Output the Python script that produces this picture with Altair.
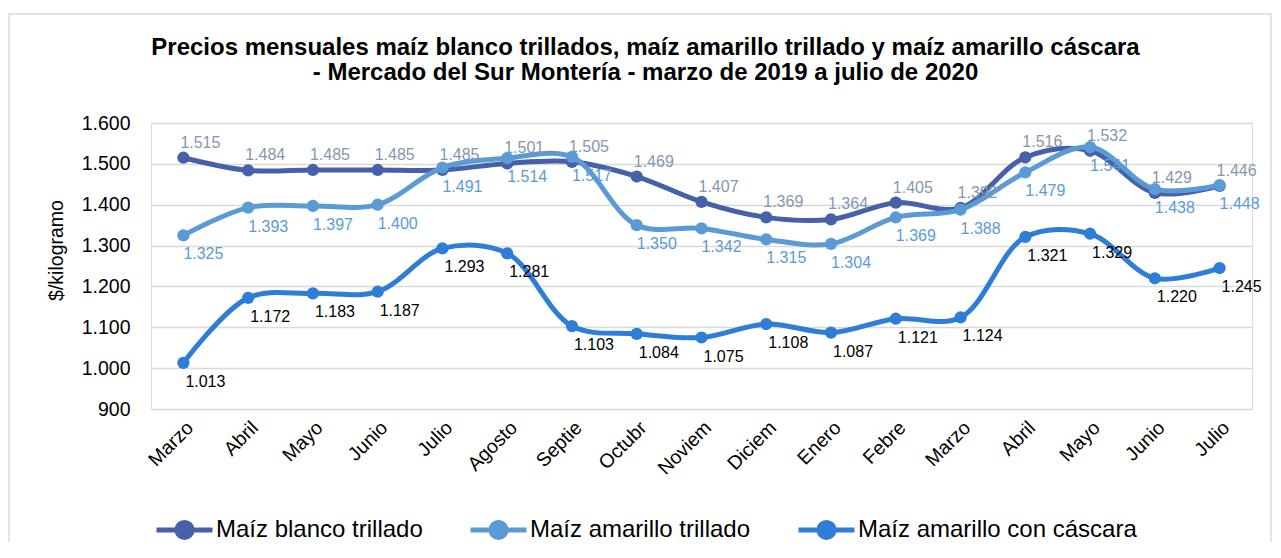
import json
import altair as alt
import pandas as pd

meses = ["Marzo", "Abril", "Mayo", "Junio", "Julio", "Agosto", "Septie", "Octubr",
         "Noviem", "Diciem", "Enero", "Febre", "Marzo", "Abril", "Mayo", "Junio", "Julio"]

series = ["Maíz blanco trillado", "Maíz amarillo trillado", "Maíz amarillo con cáscara"]

blanco = [1515, 1484, 1485, 1485, 1485, 1501, 1505, 1469, 1407, 1369, 1364, 1405, 1392,
          1516, 1532, 1429, 1446]
amarillo = [1325, 1393, 1397, 1400, 1491, 1514, 1517, 1350, 1342, 1315, 1304, 1369, 1388,
            1479, 1541, 1438, 1448]
cascara = [1013, 1172, 1183, 1187, 1293, 1281, 1103, 1084, 1075, 1108, 1087, 1121, 1124,
           1321, 1329, 1220, 1245]

colores = ["#4760AA", "#5B9BD5", "#2E7DD7"]
colores_etiqueta = ["#8497B0", "#5B9BD5", "#000000"]

rows = []
for s, vals in zip(series, [blanco, amarillo, cascara]):
    for i, v in enumerate(vals):
        rows.append({"mes": i, "serie": s, "valor": v})
df = pd.DataFrame(rows)

FONT = "Liberation Sans"
W, H = 1101, 286

labels_js = json.dumps(meses)

x_enc = alt.X("mes:O",
              scale=alt.Scale(type="point", padding=0.5),
              axis=alt.Axis(title=None, labelAngle=-45, labelAlign="right", labelBaseline="top",
                            labelExpr=f"{labels_js}[datum.value]", labelFontSize=19.5,
                            labelColor="#000000", labelFont=FONT, ticks=False, domain=False,
                            labelPadding=9, grid=False))
y_enc = alt.Y("valor:Q",
              scale=alt.Scale(domain=[900, 1600], nice=False, zero=False),
              axis=alt.Axis(title="$/kilogramo", values=[900, 1000, 1100, 1200, 1300, 1400, 1500, 1600],
                            labelExpr="replace(format(datum.value, ','), ',', '.')",
                            labelFontSize=19.5, labelFont=FONT, labelColor="#000000",
                            titleFontSize=19.5, titleFont=FONT, titleFontWeight="normal",
                            titleColor="#000000", titleAngle=270, titleX=-95, titleY=127,
                            titleAlign="center", titleBaseline="middle",
                            ticks=False, domain=False, labelPadding=21,
                            grid=True, gridColor="#D9D9D9", gridWidth=1.5))

symbol_path = "M-1,0H1M0.27,0A0.27,0.27,0,1,1,-0.27,0A0.27,0.27,0,1,1,0.27,0Z"


def mk_legend():
    return alt.Legend(title=None, orient="none", direction="horizontal", legendX=3, legendY=376,
                      symbolType=symbol_path, symbolSize=3136, symbolStrokeWidth=5,
                      labelFontSize=24, labelFont=FONT, labelColor="#000000", labelLimit=0,
                      labelOffset=1, columnPadding=37, columns=3, symbolOpacity=1)


stroke_enc = alt.Stroke("serie:N", scale=alt.Scale(domain=series, range=colores),
                        sort=series, legend=mk_legend())
fill_enc = alt.Fill("serie:N", scale=alt.Scale(domain=series, range=colores),
                    sort=series, legend=mk_legend())

base = alt.Chart(df).encode(x=x_enc, y=y_enc)

layers = []
for s in series:
    sub = base.transform_filter(alt.datum.serie == s)
    layers.append(sub.mark_line(interpolate="catmull-rom", strokeWidth=5).encode(stroke=stroke_enc))
    layers.append(sub.mark_circle(size=150, opacity=1, strokeWidth=0).encode(fill=fill_enc, stroke=stroke_enc))

offsets = {series[0]: (-3, -15), series[1]: (0, 19), series[2]: (2, 19)}
for s, col in zip(series, colores_etiqueta):
    dx, dy = offsets[s]
    layers.append(
        base.transform_filter(alt.datum.serie == s)
        .transform_calculate(etiqueta="replace(format(datum.valor, ','), ',', '.')")
        .mark_text(align="left", baseline="middle", dx=dx, dy=dy, fontSize=16, font=FONT, color=col)
        .encode(text="etiqueta:N")
    )

frame = alt.Chart(alt.Data(values=[{}])).mark_rect(filled=False, stroke="#D9D9D9", strokeWidth=1.5).encode(
    x=alt.value(-142), x2=alt.value(1120), y=alt.value(-109), y2=alt.value(470))

chart = alt.layer(frame, *layers).properties(
    width=W, height=H,
    title=alt.TitleParams(
        text=["Precios mensuales maíz blanco trillados, maíz amarillo trillado y maíz amarillo cáscara",
              "- Mercado del Sur Montería - marzo de 2019 a julio de 2020"],
        font=FONT, fontSize=24, fontWeight="bold", color="#000000", anchor="middle",
        dx=-56, offset=-72, lineHeight=25),
    padding={"left": 143, "top": 115, "right": 21, "bottom": 133},
    autosize=alt.AutoSizeParams(type="none"),
).configure_view(stroke=None).configure(background="#FFFFFF")

chart.save("out.html", embed_options={"renderer": "svg", "actions": False})
